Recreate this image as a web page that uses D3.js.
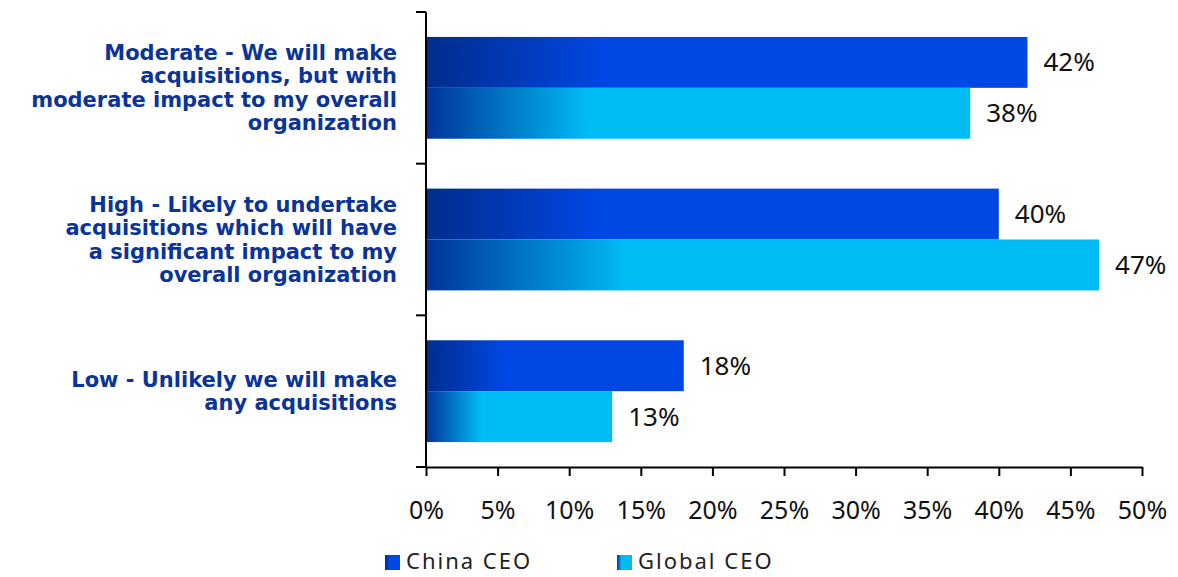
<!DOCTYPE html>
<html>
<head>
<meta charset="utf-8">
<script src="https://cdn.jsdelivr.net/npm/d3@7"></script>
<style>
  body { margin: 0; background: #fff; }
  svg { display: block; }
</style>
</head>
<body>
<svg id="chart" width="1178" height="577"></svg>
<script>
// categories, top to bottom
const categories = [
    ["Moderate - We will make", "acquisitions, but with", "moderate impact to my overall", "organization"],
    ["High - Likely to undertake", "acquisitions which will have", "a significant impact to my", "overall organization"],
    ["Low - Unlikely we will make", "any acquisitions"]
];
const seriesNames = ["China CEO", "Global CEO"];
const chinaValues = [42, 40, 18];
const globalValues = [38, 47, 13];
const xTicks = [0, 5, 10, 15, 20, 25, 30, 35, 40, 45, 50];

const svg = d3.select("#chart");
const margin = {left: 426, right: 36, top: 12, bottom: 110};
const width = 1178, height = 577;

const x = d3.scaleLinear().domain([0, 50]).range([margin.left, width - margin.right]);
const y = d3.scaleBand().domain(d3.range(categories.length))
    .range([margin.top, height - margin.bottom]).paddingInner(0).paddingOuter(0);
const inner = d3.scaleBand().domain(seriesNames).range([0, y.bandwidth()])
    .paddingInner(0).paddingOuter(0.49);

// gradients: dark navy at the left, full colour from ~30% of the bar
const colors = {"China CEO": ["#002d8c", "#0047e3"], "Global CEO": ["#00339a", "#00bcf5"]};
const defs = svg.append("defs");
seriesNames.forEach((s, i) => {
    const g = defs.append("linearGradient").attr("id", "grad" + i)
        .attr("x1", 0).attr("x2", 1).attr("y1", 0).attr("y2", 0);
    g.append("stop").attr("offset", "0%").attr("stop-color", colors[s][0]);
    g.append("stop").attr("offset", "30%").attr("stop-color", colors[s][1]);
    g.append("stop").attr("offset", "100%").attr("stop-color", colors[s][1]);
});

const rows = categories.map((c, i) => ({i, vals: [chinaValues[i], globalValues[i]]}));

const group = svg.append("g").selectAll("g").data(rows).join("g")
    .attr("transform", d => `translate(0,${y(d.i)})`);

group.selectAll("rect").data(d => d.vals.map((v, k) => ({v, k})))
    .join("rect")
    .attr("x", x(0))
    .attr("y", d => inner(seriesNames[d.k]))
    .attr("width", d => x(d.v) - x(0))
    .attr("height", inner.bandwidth())
    .attr("fill", d => `url(#grad${d.k})`);

group.selectAll("text.val").data(d => d.vals.map((v, k) => ({v, k})))
    .join("text")
    .attr("class", "val")
    .attr("x", d => x(d.v) + 16)
    .attr("y", d => inner(seriesNames[d.k]) + inner.bandwidth() / 2)
    .attr("dy", "0.35em")
    .style("font", "26px 'Noto Sans', sans-serif")
    .attr("fill", "#111")
    .text(d => d.v + "%");

// category labels
const lineH = 23.5;
svg.append("g").selectAll("text").data(rows).join("text")
    .attr("text-anchor", "end")
    .attr("fill", "#0b3497")
    .style("font", "bold 21px 'DejaVu Sans', sans-serif")
    .each(function (d) {
        const lines = categories[d.i];
        const cy = y(d.i) + y.bandwidth() / 2 - (lines.length - 1) * lineH / 2;
        d3.select(this).selectAll("tspan").data(lines).join("tspan")
            .attr("x", 397)
            .attr("y", (l, j) => cy + j * lineH)
            .attr("dy", "0.35em")
            .text(l => l);
    });

// y axis with ticks between categories
const yAxis = svg.append("g").attr("stroke", "#000").attr("stroke-width", 2);
yAxis.append("line").attr("x1", x(0)).attr("x2", x(0))
    .attr("y1", margin.top).attr("y2", height - margin.bottom);
yAxis.selectAll("line.tk").data(d3.range(categories.length + 1)).join("line")
    .attr("class", "tk")
    .attr("x1", x(0) - 10).attr("x2", x(0))
    .attr("y1", d => margin.top + d * y.bandwidth())
    .attr("y2", d => margin.top + d * y.bandwidth());

// x axis
const xAxis = svg.append("g")
    .attr("transform", `translate(0,${height - margin.bottom})`)
    .call(d3.axisBottom(x).tickValues(xTicks).tickFormat(d => d + "%").tickSize(9).tickPadding(25).tickSizeOuter(0));
xAxis.select(".domain").attr("stroke", "#000").attr("stroke-width", 2);
xAxis.selectAll(".tick line").attr("stroke", "#000").attr("stroke-width", 2);
xAxis.selectAll(".tick text")
    .style("font", "25px 'Noto Sans', sans-serif").attr("fill", "#111");

// legend
const legend = svg.append("g").selectAll("g").data(seriesNames).join("g")
    .attr("transform", (d, i) => `translate(${385 + i * 232},555)`);
legend.append("rect").attr("width", 15).attr("height", 15)
    .attr("fill", (d, i) => `url(#grad${i})`);
legend.append("text").attr("x", 21).attr("y", 14)
    .style("font", "22px 'Noto Sans', sans-serif")
    .style("letter-spacing", "2px")
    .attr("fill", "#222")
    .text(d => d);
</script>
</body>
</html>
